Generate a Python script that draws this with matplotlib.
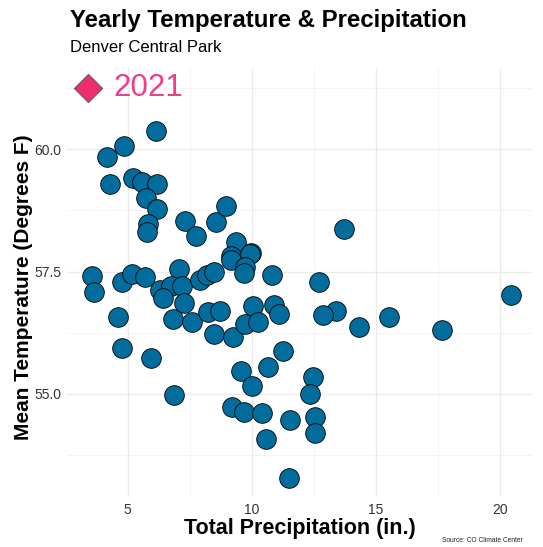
import matplotlib
matplotlib.use("Agg")
import matplotlib.pyplot as plt

plt.rcParams['font.family'] = ['Liberation Sans', 'DejaVu Sans']

precip = [6.13, 4.86, 4.19, 4.31, 5.20, 5.59, 6.20, 5.74, 6.17, 5.83, 5.79, 7.32, 7.75,
          8.57, 8.97, 9.38, 9.98, 9.17,
          13.71, 12.72, 20.44, 13.39, 12.86, 14.33, 15.52, 17.65, 11.27, 12.48, 12.35,
          11.54, 12.53, 12.53,
          3.57, 3.64, 4.76, 5.16, 5.70, 7.07, 4.62, 4.78, 5.93, 6.88, 6.30, 6.74, 7.18,
          6.43, 7.27, 6.84, 7.60, 7.91, 8.18, 8.48, 8.25, 8.72, 8.48, 9.23, 9.15, 9.93,
          9.73, 9.70, 10.83, 10.04, 9.73, 10.26, 10.89, 11.10, 10.64, 9.55, 10.02, 9.21,
          9.69, 10.40, 10.57, 11.50]
temp = [60.38, 60.07, 59.85, 59.29, 59.41, 59.34, 59.29, 59.01, 58.78, 58.47, 58.30, 58.53, 58.23,
        58.51, 58.85, 58.11, 57.88, 57.81,
        58.37, 57.29, 57.03, 56.70, 56.61, 56.37, 56.57, 56.30, 55.88, 55.35, 54.99,
        54.47, 54.54, 54.20,
        57.41, 57.08, 57.29, 57.45, 57.40, 57.55, 56.57, 55.93, 55.73, 54.98, 57.13, 57.21, 57.21,
        56.96, 56.85, 56.53, 56.48, 57.33, 57.43, 57.50, 56.67, 56.70, 56.23, 56.16, 57.74, 57.86,
        57.60, 57.47, 57.43, 56.80, 56.43, 56.48, 56.82, 56.63, 55.55, 55.46, 55.17, 54.73,
        54.63, 54.61, 54.08, 53.29]

highlight_precip = [3.40]
highlight_temp = [61.25]
highlight_label = "2021"
xticks = [5, 10, 15, 20]
yticks = [55.0, 57.5, 60.0]

fig = plt.figure(figsize=(5.43, 5.47), dpi=100)
ax = fig.add_axes([0.1228, 0.0909, 0.980 - 0.1228, 0.8748 - 0.0909])

ax.set_xlim(2.55, 21.29)
ax.set_ylim(52.89, 61.65)
ax.set_xticks(xticks)
ax.set_yticks(yticks)
ax.set_xticks([7.5, 12.5, 17.5], minor=True)
ax.set_yticks([53.75, 56.25, 58.75, 61.25], minor=True)
ax.set_yticklabels([f"{v:.1f}" for v in yticks])
ax.grid(which='major', color='#EBEBEB', lw=1.0)
ax.grid(which='minor', color='#F2F2F2', lw=0.6)
ax.set_axisbelow(True)
for s in ax.spines.values():
    s.set_visible(False)
ax.tick_params(which='both', length=0, labelsize=10, labelcolor='#333333', pad=4)

ax.scatter(precip, temp, s=200, facecolor='#026C9C', edgecolor='black', linewidth=0.6, zorder=3)
ax.scatter(highlight_precip, highlight_temp, s=210, marker='D', facecolor='#EE2D6C',
           edgecolor='#555555', linewidth=0.6, zorder=3)
ax.text(4.41, highlight_temp[0], highlight_label, color='#EE3D8A', fontsize=22.5,
        ha='left', va='center')

ax.set_xlabel("Total Precipitation (in.)", fontsize=15.5, fontweight='bold', labelpad=0.5)
ax.set_ylabel("Mean Temperature (Degrees F)", fontsize=15, fontweight='bold')
ax.yaxis.set_label_coords(-0.072, 0.49)

fig.text(70 / 543, 1 - 21 / 547, "Yearly Temperature & Precipitation", fontsize=17.3,
         fontweight='bold', ha='left', va='center')
fig.text(70 / 543, 1 - 48 / 547, "Denver Central Park", fontsize=12, ha='left', va='center')
fig.text(523 / 543, 1 - 544 / 547, "Source: CO Climate Center", fontsize=4.8, ha='right',
         va='bottom', color='#222222')

fig.savefig("out.png", dpi=100)
